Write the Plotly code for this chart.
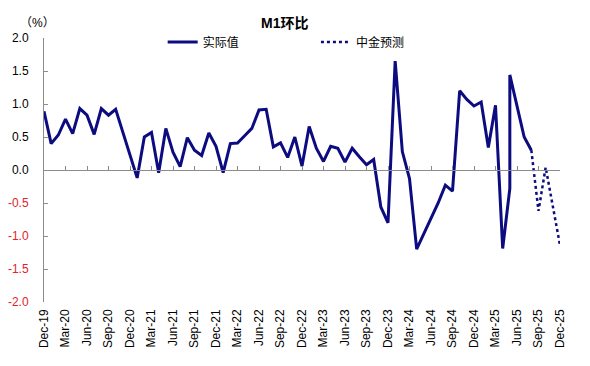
import plotly.graph_objects as go

# ---- data ----
actual_months = [
    "2019-12",
    "2020-01", "2020-02", "2020-03", "2020-04", "2020-05", "2020-06",
    "2020-07", "2020-08", "2020-09", "2020-10", "2020-11", "2020-12",
    "2021-01", "2021-02", "2021-03", "2021-04", "2021-05", "2021-06",
    "2021-07", "2021-08", "2021-09", "2021-10", "2021-11", "2021-12",
    "2022-01", "2022-02", "2022-03", "2022-04", "2022-05", "2022-06",
    "2022-07", "2022-08", "2022-09", "2022-10", "2022-11", "2022-12",
    "2023-01", "2023-02", "2023-03", "2023-04", "2023-05", "2023-06",
    "2023-07", "2023-08", "2023-09", "2023-10", "2023-11", "2023-12",
    "2024-01", "2024-02", "2024-03", "2024-04", "2024-05", "2024-06",
    "2024-07", "2024-08", "2024-09", "2024-10", "2024-11", "2024-12",
    "2025-01", "2025-02", "2025-03", "2025-04", "2025-05", "2025-05",
    "2025-07", "2025-08",
]
actual_values = [
    0.89,
    0.40, 0.53, 0.77, 0.55, 0.93, 0.83,
    0.54, 0.93, 0.83, 0.92, 0.58, 0.24,
    -0.12, 0.50, 0.57, -0.04, 0.63, 0.27,
    0.05, 0.49, 0.30, 0.22, 0.56, 0.36,
    -0.04, 0.40, 0.41, 0.52, 0.63, 0.91,
    0.92, 0.35, 0.41, 0.19, 0.50, 0.06,
    0.66, 0.33, 0.13, 0.36, 0.33, 0.12,
    0.33, 0.20, 0.08, 0.16, -0.56, -0.80,
    1.65, 0.28, -0.13, -1.20, -0.97, -0.74,
    -0.50, -0.23, -0.32, 1.20, 1.07, 0.97,
    1.03, 0.34, 0.98, -1.19, -0.28, 1.44,
    0.50, 0.30,
]
forecast_months = ["2025-08", "2025-09", "2025-10", "2025-11", "2025-12"]
forecast_values = [0.30, -0.62, 0.04, -0.55, -1.14]

tick_labels = [
    "Dec-19", "Mar-20", "Jun-20", "Sep-20", "Dec-20", "Mar-21", "Jun-21",
    "Sep-21", "Dec-21", "Mar-22", "Jun-22", "Sep-22", "Dec-22", "Mar-23",
    "Jun-23", "Sep-23", "Dec-23", "Mar-24", "Jun-24", "Sep-24", "Dec-24",
    "Mar-25", "Jun-25", "Sep-25", "Dec-25",
]
y_ticks = [2.0, 1.5, 1.0, 0.5, 0.0, -0.5, -1.0, -1.5, -2.0]


def month_index(m):
    y, mo = m.split("-")
    return (int(y) - 2019) * 12 + int(mo) - 12


ax = [month_index(m) for m in actual_months]
fx = [month_index(m) for m in forecast_months]
tick_vals = [3 * k for k in range(len(tick_labels))]

NAVY = "#0c0c80"
GRAY = "#8c8c8c"
FONT = "Liberation Sans, Arial, Noto Sans CJK SC, sans-serif"

fig = go.Figure()
fig.add_trace(go.Scatter(
    x=ax, y=actual_values, mode="lines", name="实际值",
    line=dict(color=NAVY, width=3), legend="legend",
))
fig.add_trace(go.Scatter(
    x=fx, y=forecast_values, mode="lines", name="中金预测",
    line=dict(color=NAVY, width=2.5, dash="dot"), legend="legend2",
))
# carrier for the zero-line axis
fig.add_trace(go.Scatter(x=[], y=[], xaxis="x2", showlegend=False, hoverinfo="skip"))

ytext = []
for v in y_ticks:
    s = f"{v:.1f}"
    if v < 0:
        s = f"<span style='color:#e3242b'>{s}</span>"
    ytext.append(s)

fig.update_layout(
    width=590, height=366,
    margin=dict(l=44, r=30, t=38, b=64),
    paper_bgcolor="white", plot_bgcolor="white",
    font=dict(family=FONT, size=12, color="black"),
    showlegend=True,
    xaxis=dict(
        range=[0, 72], tickvals=tick_vals, ticktext=tick_labels,
        tickangle=-90, showline=False, ticks="", zeroline=False,
        showgrid=False, tickfont=dict(size=12, color="black"),
        ticklabelstandoff=4, automargin=False,
    ),
    xaxis2=dict(
        range=[0, 72], overlaying="x", anchor="free", position=0.5,
        side="bottom", tickvals=tick_vals, ticks="inside", ticklen=4,
        tickcolor=GRAY, showline=True, linecolor=GRAY, linewidth=1,
        showticklabels=False, showgrid=False, zeroline=False,
    ),
    yaxis=dict(
        range=[-2, 2], tickvals=y_ticks, ticktext=ytext,
        showline=True, linecolor=GRAY, linewidth=1, ticks="inside",
        ticklen=4, tickcolor=GRAY, showgrid=False, zeroline=False,
        ticklabelstandoff=12, tickfont=dict(size=12, color="black"),
        automargin=False,
    ),
    legend=dict(
        x=0.23, y=0.985, xanchor="left", yanchor="middle",
        orientation="h", bgcolor="rgba(0,0,0,0)", font=dict(size=12),
    ),
    legend2=dict(
        x=0.527, y=0.985, xanchor="left", yanchor="middle",
        orientation="h", bgcolor="rgba(0,0,0,0)", font=dict(size=12),
    ),
    annotations=[
        dict(text="<b>M1环比</b>", xref="paper", yref="paper", x=0.467, y=1.0,
             yshift=15, showarrow=False, font=dict(size=14), xanchor="center",
             yanchor="middle"),
        dict(text="（%）", xref="paper", yref="paper", x=0.025, y=1.0,
             yshift=15, showarrow=False, font=dict(size=12), xanchor="right",
             yanchor="middle"),
    ],
)

fig.write_html(
    "out.html",
    config={"displayModeBar": False},
    post_script="document.body.style.margin='0';document.body.style.padding='0';",
)
